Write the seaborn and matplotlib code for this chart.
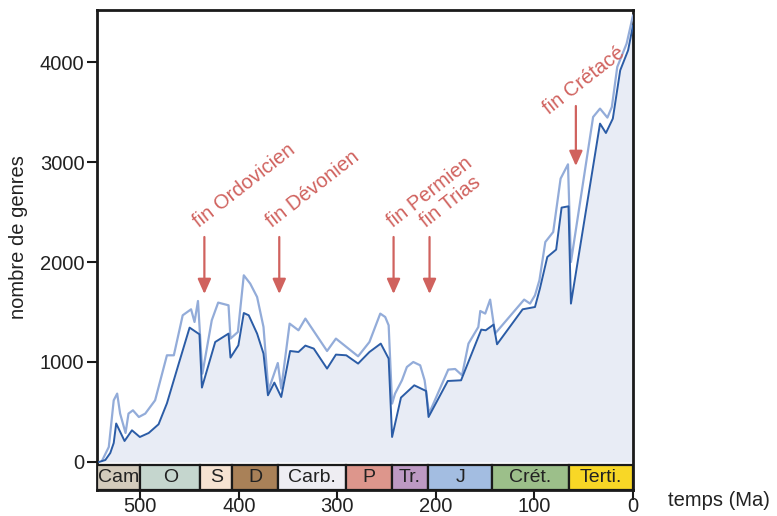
import matplotlib
matplotlib.use("Agg")
import matplotlib.pyplot as plt
import seaborn as sns
import pandas as pd
from matplotlib.patches import Rectangle

# Diversité marine : nombre de genres au cours du Phanérozoïque
# courbe foncée (genres bien résolus)
dark_ma = [542, 535.5, 530.5, 527, 524.5, 516, 508.5, 500.5, 491.5, 481.5, 473, 461, 450,
           440, 437.5, 424, 410.5, 408.5, 400.5, 395, 390, 381.5, 375, 370.5, 364, 357,
           348, 339.5, 332.5, 324, 310.5, 301.5, 291, 279, 267.5, 256, 248, 244.5, 235.5,
           222, 210, 207.5, 188, 174.5, 154, 149.5, 141.5, 138, 112, 99.5, 94.5, 87, 78,
           72.5, 65.5, 63, 33.5, 27.5, 20.5, 13, 5, 0]
dark_n = [0, 20, 90, 190, 385, 210, 317, 250, 290, 377, 587, 984, 1344,
          1277, 744, 1200, 1284, 1044, 1167, 1490, 1467, 1284, 1084, 667, 794, 650,
          1110, 1100, 1164, 1134, 934, 1074, 1067, 984, 1100, 1184, 1034, 250, 644,
          767, 710, 450, 810, 817, 1324, 1317, 1374, 1177, 1527, 1550, 1734, 2050, 2124,
          2544, 2557, 1584, 3384, 3290, 3434, 3917, 4117, 4367]

# courbe claire (tous les genres)
light_ma = [539, 532, 527, 523.5, 520.5, 515, 512, 507.5, 501.5, 495, 485, 473, 466, 457,
            448.5, 445, 441.5, 437, 427.5, 421, 410.5, 408.5, 401, 395, 388.5, 381.5, 375,
            370, 360.5, 357, 348.5, 339.5, 332.5, 310.5, 301.5, 279, 267.5, 256.5, 251.5,
            248, 244.5, 241.5, 234.5, 229.5, 223, 216, 211.5, 207, 187.5, 180.5, 173.5,
            167, 157, 155, 150, 145, 140, 110.5, 104.5, 99.5, 95, 89, 81, 73.5, 66, 63,
            40.5, 33.5, 26, 21.5, 16, 6.5, 0]
light_n = [10, 150, 617, 684, 484, 290, 484, 517, 450, 484, 617, 1067, 1067, 1467,
           1527, 1400, 1610, 884, 1417, 1594, 1567, 1234, 1300, 1867, 1784, 1650, 1350,
           717, 990, 734, 1384, 1317, 1434, 1110, 1234, 1057, 1200, 1484, 1450,
           1367, 584, 684, 817, 950, 1000, 967, 817, 484, 924, 930, 867,
           1184, 1350, 1510, 1484, 1624, 1284, 1624, 1584, 1667, 1817, 2200, 2300, 2834, 2977, 2000,
           3450, 3534, 3444, 3550, 3950, 4184, 4467]

# échelle des temps géologiques
period_names = ["Cam", "O", "S", "D", "Carb.", "P", "Tr.", "J", "Crét.", "Terti."]
period_bounds = [544, 500, 439, 407, 360, 291, 245, 208, 143, 65, 0]
period_colors = ["#d3cbbc", "#c5d6ce", "#f6e3d2", "#a98158", "#eeedf2",
                 "#dd968c", "#bd99c3", "#a3bde1", "#9cbf8a", "#f8d726"]

# extinctions majeures
ext_labels = ["fin Ordovicien", "fin Dévonien", "fin Permien", "fin Trias", "fin Crétacé"]
ext_arrow_ma = [435, 359, 243, 206.5, 58]
ext_arrow_top = [2250, 2250, 2250, 2250, 3560]
ext_arrow_tip = [1680, 1680, 1680, 1680, 2960]
ext_text_ma = [440, 366, 244, 210, 85]
ext_text_y = [2340, 2340, 2340, 2340, 3470]

yticks = [0, 1000, 2000, 3000, 4000]
xticks = [500, 400, 300, 200, 100, 0]

sns.set_theme(style="white")
plt.rcParams["font.family"] = ["Liberation Sans", "DejaVu Sans"]

RED = "#d0625e"
TXT = "#222222"

fig = plt.figure(figsize=(7.77, 5.16), dpi=100)
ax = fig.add_axes([0.1248, 0.0504, 0.6899, 0.9302])

dark = pd.DataFrame({"Ma": dark_ma, "genres": dark_n})
light = pd.DataFrame({"Ma": light_ma, "genres": light_n})

ax.fill_between(dark["Ma"], 0, dark["genres"], color="#e8ecf5", lw=0, zorder=1)
sns.lineplot(data=light, x="Ma", y="genres", ax=ax, color="#93acd9", lw=1.6, zorder=3)
sns.lineplot(data=dark, x="Ma", y="genres", ax=ax, color="#2b5ca6", lw=1.4, zorder=4)

ax.set_xlim(544, 0)
ax.set_ylim(-280, 4520)

# bandeau des périodes
for name, a, b, c in zip(period_names, period_bounds[:-1], period_bounds[1:], period_colors):
    ax.add_patch(Rectangle((a, -280), b - a, 250, facecolor=c, edgecolor="#1a1a1a",
                           lw=1.6, zorder=5))
    ax.text((a + b) / 2, -160, name, ha="center", va="center", fontsize=14,
            color=TXT, zorder=6, clip_on=True)

# flèches et noms des extinctions
for lab, xa, top, tip, xt, yt in zip(ext_labels, ext_arrow_ma, ext_arrow_top,
                                     ext_arrow_tip, ext_text_ma, ext_text_y):
    ax.annotate("", xy=(xa, tip), xytext=(xa, top),
                arrowprops=dict(arrowstyle="-|>,head_length=0.45,head_width=0.2",
                                color=RED, lw=1.6, mutation_scale=20,
                                shrinkA=0, shrinkB=0), zorder=7)
    ax.text(xt, yt, lab, rotation=38, rotation_mode="anchor", ha="left",
            va="baseline", fontsize=14.5, color=RED, zorder=7)

ax.set_xticks(xticks)
ax.set_xticklabels([str(t) for t in xticks])
ax.set_yticks(yticks)
ax.set_yticklabels([str(t) for t in yticks])
ax.tick_params(axis="y", direction="out", length=7, width=1.5, color="#1a1a1a",
               labelsize=14.5, labelcolor=TXT, pad=2, left=True)
ax.tick_params(axis="x", direction="out", length=7, width=1.5, color="#1a1a1a",
               labelsize=14.5, labelcolor=TXT, pad=-2, bottom=True)
for s in ax.spines.values():
    s.set_color("#1a1a1a")
    s.set_linewidth(2)
    s.set_visible(True)
ax.set_xlabel("")
ax.set_ylabel("")
ax.grid(False)

fig.text(0.024, 0.541, "nombre de genres", rotation=90, ha="center", va="center",
         fontsize=14.5, color=TXT)
fig.text(0.86, 0.03, "temps (Ma)", ha="left", va="center", fontsize=14.5, color=TXT)

fig.savefig("out.png", dpi=100)
